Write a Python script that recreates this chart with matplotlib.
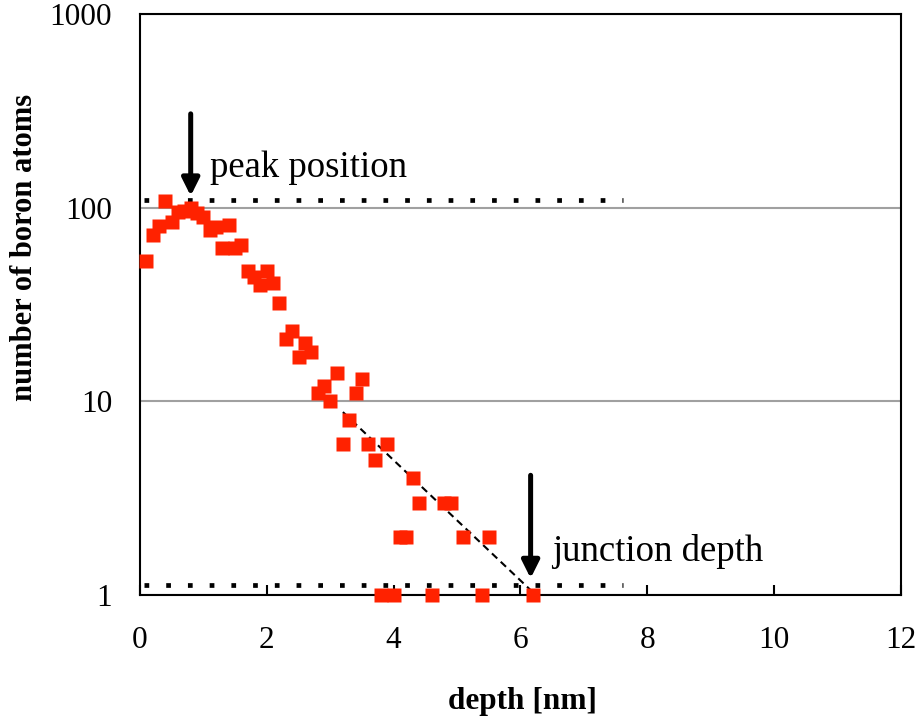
import matplotlib
matplotlib.use("Agg")
import matplotlib.pyplot as plt

# boron depth profile (0.1 nm bins)
depth = [0.1, 0.2, 0.3, 0.4, 0.5, 0.6, 0.7, 0.8, 0.9, 1.0,
         1.1, 1.2, 1.3, 1.4, 1.5, 1.6, 1.7, 1.8, 1.9, 2.0,
         2.1, 2.2, 2.3, 2.4, 2.5, 2.6, 2.7, 2.8, 2.9, 3.0,
         3.1, 3.2, 3.3, 3.4, 3.5, 3.6, 3.7, 3.8, 3.9, 4.0,
         4.1, 4.2, 4.3, 4.4, 4.6, 4.8, 4.9, 5.1, 5.4, 5.5, 6.2]
atoms = [53, 72, 80, 108, 84, 95, 96, 100, 94, 90,
         77, 79, 62, 81, 62, 64, 47, 44, 40, 47,
         41, 32, 21, 23, 17, 20, 18, 11, 12, 10,
         14, 6, 8, 11, 13, 6, 5, 1, 6, 1,
         2, 2, 4, 3, 1, 3, 3, 2, 1, 2, 1]

# exponential tail fit, extended down to one atom
fit_x = [3.2, 6.2]
fit_y = [8.8, 1.03]

peak_level = 110
junction_level = 1.12
peak_depth = 0.8
junction_depth = 6.16

plt.rcParams["font.family"] = ["Liberation Serif", "DejaVu Serif"]

fig = plt.figure(figsize=(9.19, 7.2), dpi=100)
ax = fig.add_axes([0.1523, 0.1736, 0.8281, 0.807])

ax.set_yscale("log")
ax.set_xlim(0, 12)
ax.set_ylim(1, 1000)

ax.yaxis.grid(True, which="major", color="#a0a0a0", lw=1.5)
ax.set_axisbelow(True)

dot = (0, (1, 3.6))
ax.plot([0.07, 7.62], [peak_level, peak_level], color="black", lw=3.4,
        linestyle=dot, zorder=3)
ax.plot([0.07, 7.62], [junction_level, junction_level], color="black", lw=3.4,
        linestyle=dot, zorder=3)

ax.plot(fit_x, fit_y, color="black", lw=1.5, dashes=(3.5, 2.3), zorder=3)

ax.plot(depth, atoms, "s", color="#ff2200", markersize=9.4, mec="none",
        zorder=4, clip_on=False)

arrow = dict(arrowstyle="-|>", lw=3.6, color="black", mutation_scale=26,
             shrinkA=0, shrinkB=0)
ax.annotate("", xy=(peak_depth, 115), xytext=(peak_depth, 305),
            arrowprops=arrow, zorder=5)
ax.annotate("", xy=(junction_depth, 1.22), xytext=(junction_depth, 4.15),
            arrowprops=arrow, zorder=5)

ax.text(1.1, 160, "peak position", fontsize=26.5, va="center", ha="left")
ax.text(6.5, 1.68, "junction depth", fontsize=26.5, va="center", ha="left")

ax.set_xticks([0, 2, 4, 6, 8, 10, 12])
ax.set_yticks([1, 10, 100, 1000])
ax.set_yticklabels(["1", "10", "100", "1000"])
ax.yaxis.set_minor_locator(matplotlib.ticker.NullLocator())
ax.tick_params(axis="x", direction="in", length=7, width=1.5,
               labelsize=22.5, pad=22)
ax.tick_params(axis="y", length=0, labelsize=22.5, pad=20)

for s in ax.spines.values():
    s.set_linewidth(1.5)
    s.set_color("black")

fig.text(0.569, 1 - 702 / 720, "depth [nm]", fontsize=22.5,
         fontweight="bold", ha="center", va="center")
fig.text(25 / 919, 1 - 247 / 720, "number of boron atoms", fontsize=22,
         fontweight="bold", rotation=90, ha="center", va="center")

fig.savefig("out.png", dpi=100)
